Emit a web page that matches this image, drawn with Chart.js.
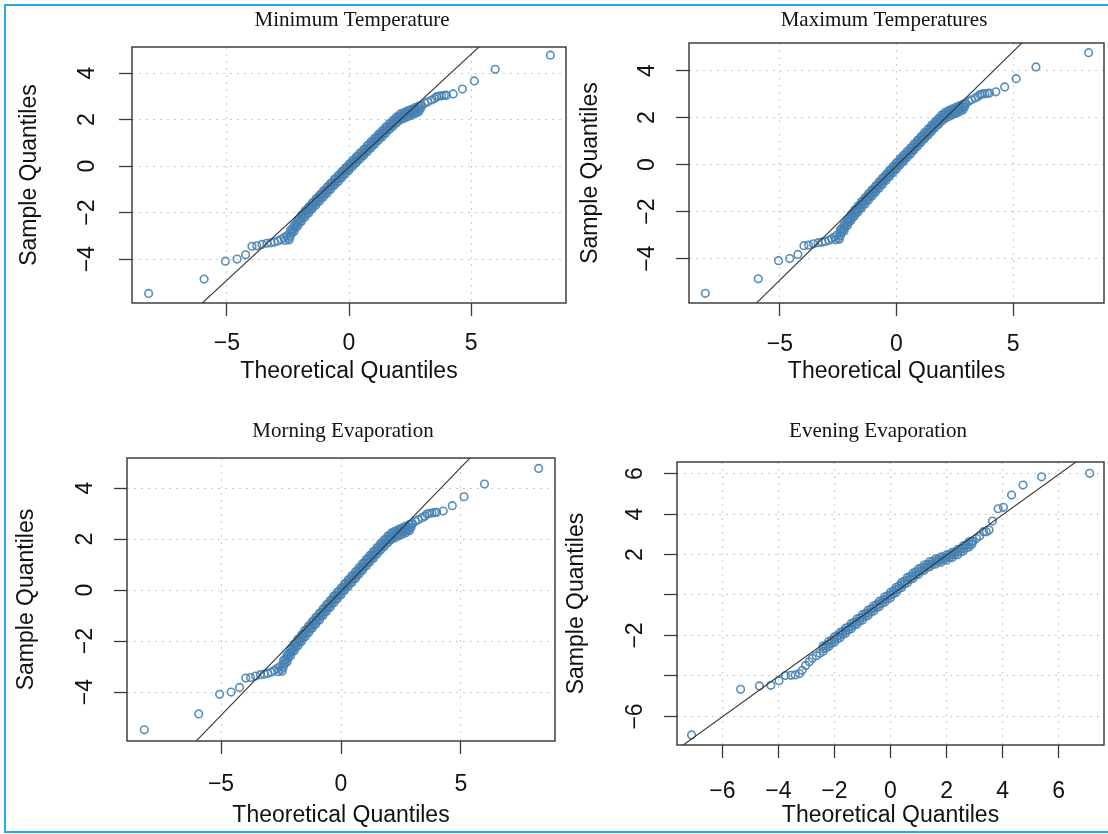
<!DOCTYPE html>
<html>
<head>
<meta charset="utf-8">
<title>Normal Q-Q plots</title>
<script src="https://cdn.jsdelivr.net/npm/chart.js@4.4.1/dist/chart.umd.min.js"></script>
<style>
  html, body { margin:0; padding:0; background:#fff; }
  #page { position:relative; width:1108px; height:834px; overflow:hidden; }
  #page canvas { position:absolute; left:0; top:0; }
  #frame { position:absolute; left:4px; top:4px; width:1200px; height:829px; border:2px solid #2aaae2; box-sizing:border-box; }
</style>
</head>
<body>
<div id="page">
  <div id="frame"></div>
  <canvas id="qqMinTemp" width="1108" height="834"></canvas>
  <canvas id="qqMaxTemp" width="1108" height="834"></canvas>
  <canvas id="qqMornEvap" width="1108" height="834"></canvas>
  <canvas id="qqEveEvap" width="1108" height="834"></canvas>
</div>
<script>
// Q-Q plots of standardised residuals (theoretical vs sample quantiles)

const W = 1108, H = 834;
const AXIS_BOX = 14;   // room kept for the tick marks outside each plot box

// temperature / morning evaporation quantiles (the three panels share them)
const tempTailX = [-8.20,-5.93,-5.06,-4.58,-4.23,-3.97,-3.77,-3.56,-3.36,-3.20,-3.05,-2.90,-2.78,-2.66,-2.55,-2.62,-2.50,-2.45,
                   2.98,3.10,3.22,3.38,3.50,3.58,3.68,3.79,3.90,3.99,4.26,4.64,5.13,5.98,8.24];
const tempTailY = [-5.48,-4.86,-4.09,-4.00,-3.82,-3.45,-3.43,-3.37,-3.32,-3.30,-3.27,-3.22,-3.15,-3.08,-3.00,-3.20,-3.12,-3.18,
                   2.60,2.70,2.76,2.84,2.90,2.98,3.01,3.02,3.04,3.05,3.10,3.31,3.66,4.16,4.77];
const tempBandX   = [-2.40,-2.25,-2.10,-1.95,-1.80,-1.65,-1.50,-1.35,-1.20,-1.05,-0.90,-0.75,-0.60,-0.45,-0.30,-0.15,0.00,0.15,
                     0.30,0.45,0.60,0.75,0.90,1.05,1.20,1.35,1.50,1.65,1.80,1.95,2.10,2.25,2.40,2.55,2.70,2.85];
const tempBandHi  = [-2.76,-2.56,-2.32,-2.12,-1.93,-1.76,-1.58,-1.41,-1.24,-1.07,-0.91,-0.74,-0.57,-0.41,-0.24,-0.08,0.08,0.25,
                     0.40,0.56,0.71,0.88,1.04,1.20,1.36,1.51,1.67,1.83,1.97,2.12,2.24,2.31,2.38,2.44,2.51,2.57];
const tempBandMid = [-2.89,-2.69,-2.45,-2.25,-2.06,-1.89,-1.71,-1.54,-1.37,-1.20,-1.04,-0.87,-0.70,-0.54,-0.37,-0.21,-0.05,0.12,
                     0.27,0.43,0.58,0.75,0.91,1.07,1.23,1.38,1.54,1.70,1.84,1.99,2.11,2.18,2.25,2.31,2.38,2.45];
const tempBandLo  = [-3.02,-2.82,-2.58,-2.38,-2.19,-2.02,-1.84,-1.67,-1.50,-1.33,-1.17,-1.00,-0.83,-0.67,-0.50,-0.34,-0.18,-0.01,
                     0.14,0.30,0.45,0.62,0.78,0.94,1.10,1.25,1.41,1.57,1.71,1.86,1.98,2.05,2.12,2.18,2.25,2.33];
const tempBandX2  = [-2.33,-2.18,-2.03,-1.88,-1.73,-1.58,-1.43,-1.28,-1.13,-0.98,-0.83,-0.68,-0.53,-0.38,-0.23,-0.08,0.07,0.22,
                     0.37,0.52,0.67,0.82,0.97,1.12,1.27,1.42,1.57,1.72,1.87,2.02,2.17,2.32,2.47,2.62,2.77,2.92];
const tempBandHi2 = [-2.72,-2.50,-2.28,-2.08,-1.90,-1.73,-1.55,-1.38,-1.21,-1.05,-0.88,-0.71,-0.55,-0.38,-0.22,-0.06,0.10,0.27,
                     0.42,0.58,0.73,0.90,1.06,1.22,1.37,1.53,1.69,1.84,1.98,2.12,2.22,2.28,2.35,2.41,2.48,2.59];
const tempBandLo2 = [-2.86,-2.64,-2.42,-2.22,-2.04,-1.87,-1.69,-1.52,-1.35,-1.19,-1.02,-0.85,-0.69,-0.52,-0.36,-0.20,-0.04,0.13,
                     0.28,0.44,0.59,0.76,0.92,1.08,1.23,1.39,1.55,1.70,1.84,1.98,2.08,2.14,2.21,2.27,2.34,2.45];
const tempLineX = [-9.5, 9.5];
const tempLineY = [-9.29, 9.19];

// evening evaporation quantiles
const eveTailX = [-7.10,-5.35,-4.68,-4.27,-3.98,-3.75,-3.55,-3.40,-3.25,-3.15,-3.03,-2.90,-2.79,-2.65,-2.52,
                  2.95,3.07,3.18,3.32,3.42,3.52,3.64,3.84,4.03,4.32,4.73,5.39,7.11];
const eveTailY = [-6.91,-4.66,-4.49,-4.46,-4.23,-3.98,-3.97,-3.95,-3.88,-3.72,-3.48,-3.30,-3.13,-3.00,-2.88,
                  2.66,2.80,2.92,3.13,3.12,3.21,3.65,4.26,4.33,4.94,5.43,5.84,6.01];
const eveBandX   = [-2.4,-2.2,-2.0,-1.8,-1.6,-1.4,-1.2,-1.0,-0.8,-0.6,-0.4,-0.2,0.0,0.2,0.4,0.6,0.8,1.0,1.2,1.4,1.6,1.8,2.0,2.2,2.4,2.6,2.8];
const eveBandHi  = [-2.52,-2.29,-2.07,-1.85,-1.63,-1.41,-1.19,-0.97,-0.75,-0.53,-0.31,-0.09,0.13,0.38,0.63,0.86,1.08,1.29,1.48,1.65,1.78,1.88,1.98,2.11,2.25,2.43,2.63];
const eveBandMid = [-2.65,-2.42,-2.20,-1.98,-1.76,-1.54,-1.32,-1.10,-0.88,-0.66,-0.44,-0.22,0.00,0.25,0.50,0.73,0.95,1.16,1.35,1.52,1.65,1.75,1.85,1.98,2.12,2.30,2.50];
const eveBandLo  = [-2.78,-2.55,-2.33,-2.11,-1.89,-1.67,-1.45,-1.23,-1.01,-0.79,-0.57,-0.35,-0.13,0.12,0.37,0.60,0.82,1.03,1.22,1.39,1.52,1.62,1.72,1.85,1.99,2.17,2.37];
const eveBandX2  = [-2.3,-2.1,-1.9,-1.7,-1.5,-1.3,-1.1,-0.9,-0.7,-0.5,-0.3,-0.1,0.1,0.3,0.5,0.7,0.9,1.1,1.3,1.5,1.7,1.9,2.1,2.3,2.5,2.7,2.9];
const eveBandHi2 = [-2.47,-2.24,-2.02,-1.80,-1.58,-1.36,-1.14,-0.92,-0.70,-0.48,-0.26,-0.04,0.20,0.45,0.69,0.91,1.13,1.33,1.51,1.66,1.77,1.87,1.99,2.12,2.28,2.47,2.65];
const eveBandLo2 = [-2.61,-2.38,-2.16,-1.94,-1.72,-1.50,-1.28,-1.06,-0.84,-0.62,-0.40,-0.18,0.06,0.31,0.55,0.77,0.99,1.19,1.37,1.52,1.63,1.73,1.85,1.98,2.14,2.33,2.51];
const eveLineX = [-8, 8];
const eveLineY = [-8.01, 7.95];

// ticks and their labels
const tempTicksX  = [-5, 0, 5];
const tempLabelsX = ['\u22125', '0', '5'];
const tempTicksY  = [-4, -2, 0, 2, 4];
const tempLabelsY = ['\u22124', '\u22122', '0', '2', '4'];
const eveTicksX   = [-6, -4, -2, 0, 2, 4, 6];
const eveLabelsX  = ['\u22126', '\u22124', '\u22122', '0', '2', '4', '6'];
const eveTicksY   = [-6, -4, -2, 0, 2, 4, 6];
const eveLabelsY  = ['\u22126', '', '\u22122', '', '2', '4', '6'];

function pairs(xs, ys){ return xs.map((x, i) => ({x, y: ys[i]})); }
function qqPoints(tail, rows){
  let out = pairs(tail[0], tail[1]);
  rows.forEach(([xs, ys]) => { out = out.concat(pairs(xs, ys)); });
  return out;
}

const tempPoints = qqPoints([tempTailX, tempTailY], [
  [tempBandX, tempBandHi], [tempBandX, tempBandMid], [tempBandX, tempBandLo],
  [tempBandX2, tempBandHi2], [tempBandX2, tempBandLo2]
]);
const evePoints = qqPoints([eveTailX, eveTailY], [
  [eveBandX, eveBandHi], [eveBandX, eveBandMid], [eveBandX, eveBandLo],
  [eveBandX2, eveBandHi2], [eveBandX2, eveBandLo2]
]);

const panels = [
  { canvas:'qqMinTemp', title:'Minimum Temperature', box:{l:132, t:47, r:566, b:303},
    xRange:[-8.88, 8.88], yRange:[-5.89, 5.12], points:tempPoints, line:pairs(tempLineX, tempLineY),
    ticksX:tempTicksX, labelsX:tempLabelsX, ticksY:tempTicksY, labelsY:tempLabelsY,
    txt:{titleX:352, titleY:20, xLabY:344, xTitleY:372, yLabX:88, yTitleX:30} },
  { canvas:'qqMaxTemp', title:'Maximum Temperatures', box:{l:689, t:43, r:1104, b:303},
    xRange:[-8.9, 8.9], yRange:[-5.89, 5.18], points:tempPoints, line:pairs(tempLineX, tempLineY),
    ticksX:tempTicksX, labelsX:tempLabelsX, ticksY:tempTicksY, labelsY:tempLabelsY,
    txt:{titleX:884, titleY:20, xLabY:345, xTitleY:372, yLabX:648, yTitleX:591} },
  { canvas:'qqMornEvap', title:'Morning Evaporation', box:{l:127, t:458, r:555, b:741},
    xRange:[-8.92, 8.92], yRange:[-5.92, 5.18], points:tempPoints, line:pairs(tempLineX, tempLineY),
    ticksX:tempTicksX, labelsX:tempLabelsX, ticksY:tempTicksY, labelsY:tempLabelsY,
    txt:{titleX:343, titleY:431, xLabY:785, xTitleY:816, yLabX:86, yTitleX:27} },
  { canvas:'qqEveEvap', title:'Evening Evaporation', box:{l:677, t:462, r:1104, b:745},
    xRange:[-7.62, 7.62], yRange:[-7.41, 6.57], points:evePoints, line:pairs(eveLineX, eveLineY),
    ticksX:eveTicksX, labelsX:eveLabelsX, ticksY:eveTicksY, labelsY:eveLabelsY,
    txt:{titleX:878, titleY:431, xLabY:792, xTitleY:816, yLabX:636, yTitleX:577} }
];

function axis(range, ticks, isX){
  return {
    type:'linear', position: isX ? 'bottom' : 'left',
    min:range[0], max:range[1],
    afterBuildTicks: s => { s.ticks = ticks.map(v => ({value:v})); },
    afterFit: s => { if (isX) s.height = AXIS_BOX; else s.width = AXIS_BOX; },
    ticks:{ display:false },
    grid:{ color:'#c9c9c9', lineWidth:1, drawTicks:true, tickLength:13,
           tickColor:'#3a3a3a', tickWidth:1.3, tickBorderDash:[] },
    border:{ display:false, dash:[2, 5] }
  };
}

// box, titles and tick labels drawn the way base R lays them out
function rLabels(p){
  const t = p.txt;
  return {
    id:'rLabels',
    afterDraw(chart){
      const {ctx, chartArea:a, scales:{x, y}} = chart;
      ctx.save();
      ctx.strokeStyle = '#333';
      ctx.lineWidth = 1.4;
      ctx.strokeRect(a.left, a.top, a.right - a.left, a.bottom - a.top);

      ctx.fillStyle = '#111';
      ctx.textAlign = 'center';
      ctx.textBaseline = 'middle';
      ctx.font = '21px "Liberation Serif", "Times New Roman", serif';
      ctx.fillText(p.title, t.titleX, t.titleY);

      ctx.font = '23px "Liberation Sans", Arial, sans-serif';
      p.ticksX.forEach((v, i) => ctx.fillText(p.labelsX[i], x.getPixelForValue(v), t.xLabY));
      ctx.fillText('Theoretical Quantiles', (a.left + a.right) / 2, t.xTitleY);

      p.ticksY.forEach((v, i) => {
        if (!p.labelsY[i]) return;
        ctx.save();
        ctx.translate(t.yLabX, y.getPixelForValue(v));
        ctx.rotate(-Math.PI / 2);
        ctx.fillText(p.labelsY[i], 0, 0);
        ctx.restore();
      });
      ctx.save();
      ctx.translate(t.yTitleX, (a.top + a.bottom) / 2);
      ctx.rotate(-Math.PI / 2);
      ctx.fillText('Sample Quantiles', 0, 0);
      ctx.restore();
      ctx.restore();
    }
  };
}

panels.forEach(p => {
  const b = p.box;
  new Chart(document.getElementById(p.canvas), {
    type:'scatter',
    data:{ datasets:[
      { type:'line', data:p.line, borderColor:'#333', borderWidth:1.1, pointRadius:0, fill:false, clip:0 },
      { data:p.points, pointStyle:'circle', pointRadius:3.8, pointBorderWidth:1.6,
        borderColor:'rgba(70,130,180,0.9)', backgroundColor:'rgba(0,0,0,0)' }
    ]},
    options:{
      responsive:false, animation:false, events:[],
      layout:{ autoPadding:false,
               padding:{ left:b.l - AXIS_BOX, top:b.t, right:W - b.r, bottom:H - b.b - AXIS_BOX } },
      plugins:{ legend:{display:false}, tooltip:{enabled:false} },
      scales:{ x:axis(p.xRange, p.ticksX, true), y:axis(p.yRange, p.ticksY, false) }
    },
    plugins:[rLabels(p)]
  });
});
</script>
</body>
</html>
